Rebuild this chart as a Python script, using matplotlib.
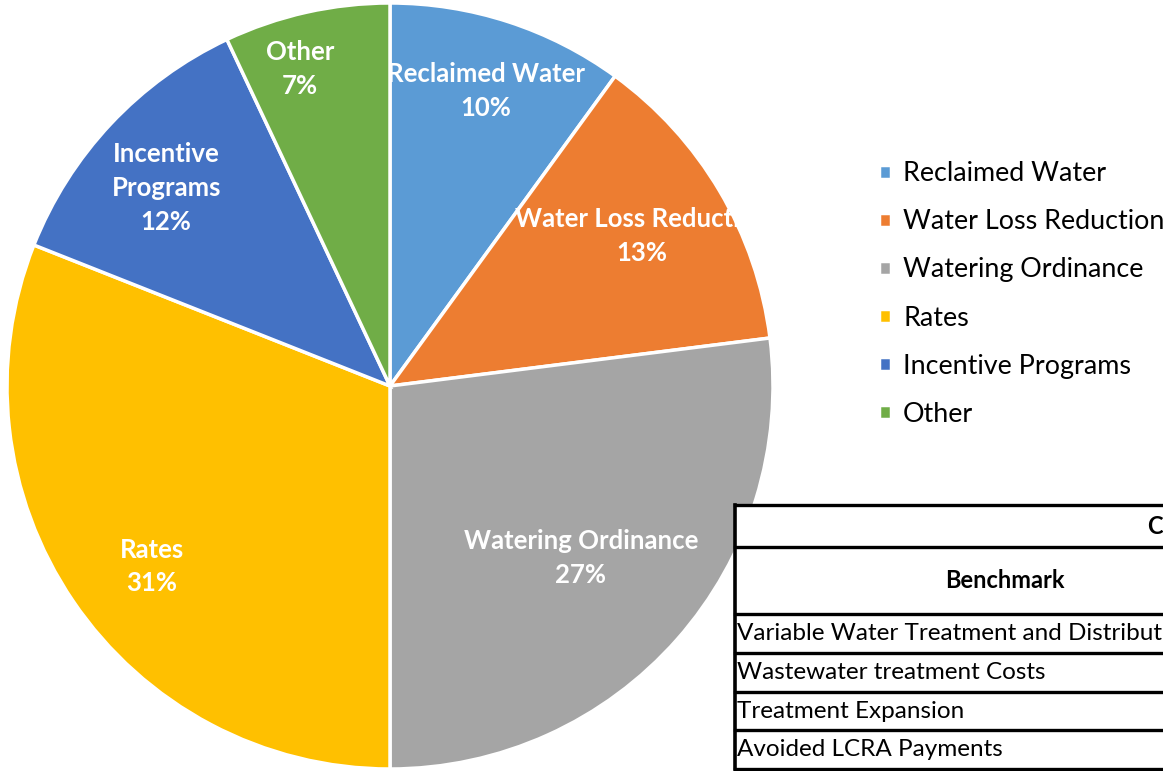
import numpy as np
import matplotlib.pyplot as plt
from matplotlib.patches import Rectangle, Circle

plt.rcParams['font.family'] = ['Lato', 'DejaVu Sans']

# pie data
categories = ["Reclaimed Water", "Water Loss Reduction", "Watering Ordinance",
              "Rates", "Incentive Programs", "Other"]
shares = [10, 13, 27, 31, 12, 7]
colors = ["#5B9BD5", "#ED7D31", "#A5A5A5", "#FFC000", "#4472C4", "#70AD47"]
slice_labels = ["Reclaimed Water", "Water Loss Reduction", "Watering Ordinance",
                "Rates", "Incentive\nPrograms", "Other"]
# label placement: fraction of radius and angle nudge (deg)
label_dist = [0.81, 0.766, 0.67, 0.78, 0.78, 0.86]
label_turn = [0, 0.2, -0.6, 3.0, 1.7, 3.3]

# table data (only the visible part)
table_header = "Cost Benchmarks"
table_col = "Benchmark"
table_rows = ["Variable Water Treatment and Distribution Costs",
              "Wastewater treatment Costs",
              "Treatment Expansion",
              "Avoided LCRA Payments"]

W, H = 1163, 771
fig = plt.figure(figsize=(W / 100, H / 100), dpi=100)

cx, cy, r = 390, 386, 383
ax = fig.add_axes([(cx - r) / W, (H - cy - r) / H, 2 * r / W, 2 * r / H])
wedges, _ = ax.pie(shares, colors=colors, startangle=90, counterclock=False,
                   radius=1, wedgeprops=dict(edgecolor="white", linewidth=2.5))
ax.set_xlim(-1, 1)
ax.set_ylim(-1, 1)
ax.set_aspect("equal")
ax.axis("off")

for w, lab, pct, d, t in zip(wedges, slice_labels, shares, label_dist, label_turn):
    ang = np.deg2rad((w.theta1 + w.theta2) / 2 + t)
    txt = ax.text(d * np.cos(ang), d * np.sin(ang), f"{lab}\n{pct}%",
                  ha="center", va="center", color="white", fontsize=18.5,
                  fontweight="bold", linespacing=1.48)
    # the long label is cut at the pie's rim, like the source
    if lab.startswith("Water Loss"):
        txt.set_clip_path(Circle((0, 0), 0.905, transform=ax.transData))

ax.legend(wedges, categories, loc="center left",
          bbox_to_anchor=(879 / W, 1 - 294 / H), bbox_transform=fig.transFigure,
          frameon=False, fontsize=19.4, handlelength=0.45, handleheight=0.45,
          handletextpad=0.45, labelspacing=0.855, borderpad=0, borderaxespad=0)

# table, partly cut off at the right edge
tx0, ty0, tw = 735, 505, 1000
tax = fig.add_axes([tx0 / W, (H - 769) / H, tw / W, (769 - ty0) / H], zorder=5)
tax.set_xlim(tx0, tx0 + tw)
tax.set_ylim(769, ty0)
tax.axis("off")
tax.add_patch(Rectangle((tx0, ty0), tw, 769 - ty0, facecolor="white",
                        edgecolor="none"))
lines_y = [505, 547, 614, 653, 692, 730, 769]
for y in lines_y:
    tax.plot([tx0, tx0 + tw], [y, y], color="black", lw=2.4, clip_on=False)
tax.plot([tx0, tx0], [505, 769], color="black", lw=2.6, clip_on=False)

tax.text(1148, (lines_y[0] + lines_y[1]) / 2, table_header, ha="left",
         va="center", fontsize=17, fontweight="bold", color="black")
tax.text(1005, (lines_y[1] + lines_y[2]) / 2, table_col, ha="center",
         va="center", fontsize=17, fontweight="bold", color="black")
for i, txt in enumerate(table_rows):
    tax.text(737, (lines_y[i + 2] + lines_y[i + 3]) / 2, txt, ha="left",
             va="center", fontsize=17.5, color="black")

fig.savefig("out.png", dpi=100)
